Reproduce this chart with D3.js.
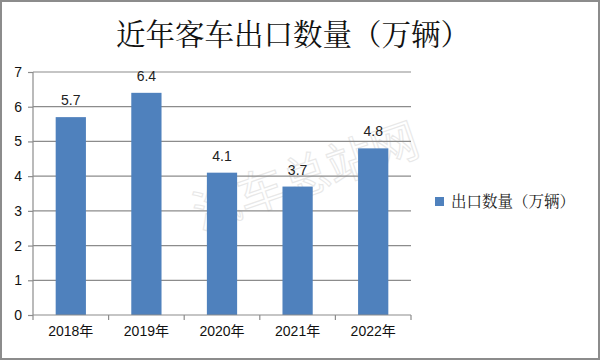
<!DOCTYPE html>
<html><head><meta charset="utf-8">
<script src="https://cdn.jsdelivr.net/npm/d3@7"></script>
<style>body{margin:0;background:#fff}svg{display:block}</style>
</head><body>
<svg id="c" width="600" height="360"></svg>
<script>
const categories = ["2018年","2019年","2020年","2021年","2022年"];
const values = [5.7, 6.4, 4.1, 3.7, 4.8];
const yTicks = [0,1,2,3,4,5,6,7];
const title = "近年客车出口数量（万辆）";
const seriesName = "出口数量（万辆）";

const svg = d3.select("#c");
const font = "'Liberation Sans','Noto Sans CJK SC',sans-serif";
const serif = "'Noto Serif CJK SC','Noto Sans CJK SC',serif";
svg.append("rect").attr("x",1).attr("y",1).attr("width",598).attr("height",358)
  .attr("fill","#fff").attr("stroke","#8c8c8c").attr("stroke-width",2);

svg.append("text").attr("x",293).attr("y",45).attr("text-anchor","middle")
  .attr("font-family",serif).attr("font-size",29.5)
  .attr("fill","#111").text(title);

const x = d3.scaleBand().domain(categories).range([33,411]).paddingInner(0.6).paddingOuter(0.3);
const y = d3.scaleLinear().domain([0,7]).range([315,72]);

// watermark
svg.append("text").attr("transform","translate(307,180) rotate(-19)")
  .attr("text-anchor","middle").attr("dominant-baseline","middle")
  .attr("font-family","'Noto Sans CJK SC',sans-serif").attr("font-size",47)
  .attr("fill","none").attr("stroke","#e8e8e8").attr("stroke-width",1.1)
  .text("汽车总站网");

// gridlines
svg.append("g").selectAll("line").data(yTicks.filter(d=>d>0)).join("line")
  .attr("x1",33).attr("x2",411).attr("y1",d=>y(d)).attr("y2",d=>y(d))
  .attr("stroke","#8c8c8c").attr("stroke-width",1.2);

// bars
svg.append("g").selectAll("rect").data(values).join("rect")
  .attr("x",(d,i)=>x(categories[i])).attr("width",x.bandwidth())
  .attr("y",d=>y(d)).attr("height",d=>y(0)-y(d))
  .attr("fill","#4f81bd");

// labels
svg.append("g").selectAll("text").data(values).join("text")
  .attr("x",(d,i)=>x(categories[i])+x.bandwidth()/2).attr("y",d=>y(d)-12)
  .attr("text-anchor","middle").attr("font-family",font).attr("font-size",14)
  .attr("fill","#222").text(d=>d.toFixed(1));

// y axis
const yAxis = d3.axisLeft(y).tickValues(yTicks).tickSize(5).tickFormat(d3.format("d"));
const gy = svg.append("g").attr("transform","translate(33,0)").call(yAxis);
gy.select(".domain").attr("stroke","#8c8c8c").attr("stroke-width",1.2).attr("d","M0,72V315");
gy.selectAll(".tick line").attr("stroke","#8c8c8c").attr("stroke-width",1.2);
gy.selectAll(".tick text").attr("font-family",font).attr("font-size",14).attr("fill","#111").attr("x",-11);

// x axis
const xAxis = d3.axisBottom(x).tickSize(0);
const gx = svg.append("g").attr("transform","translate(0,315)").call(xAxis);
gx.select(".domain").attr("stroke","#8c8c8c").attr("stroke-width",1.2).attr("d","M33,0H411");
gx.selectAll(".tick text").attr("font-family",font).attr("font-size",14).attr("fill","#111").attr("dy","1.3em");
const bounds = categories.map(c=>x(c)-x.step()*x.paddingInner()/2).concat([411]);
gx.append("g").selectAll("line").data(bounds).join("line")
  .attr("x1",d=>d).attr("x2",d=>d).attr("y1",0).attr("y2",5)
  .attr("stroke","#8c8c8c").attr("stroke-width",1.2);

// legend
svg.append("rect").attr("x",435).attr("y",197).attr("width",9).attr("height",9).attr("fill","#4f81bd");
svg.append("text").attr("x",451).attr("y",207).attr("font-family",serif)
  .attr("font-size",15.5).attr("fill","#222").text(seriesName);
</script>
</body></html>
